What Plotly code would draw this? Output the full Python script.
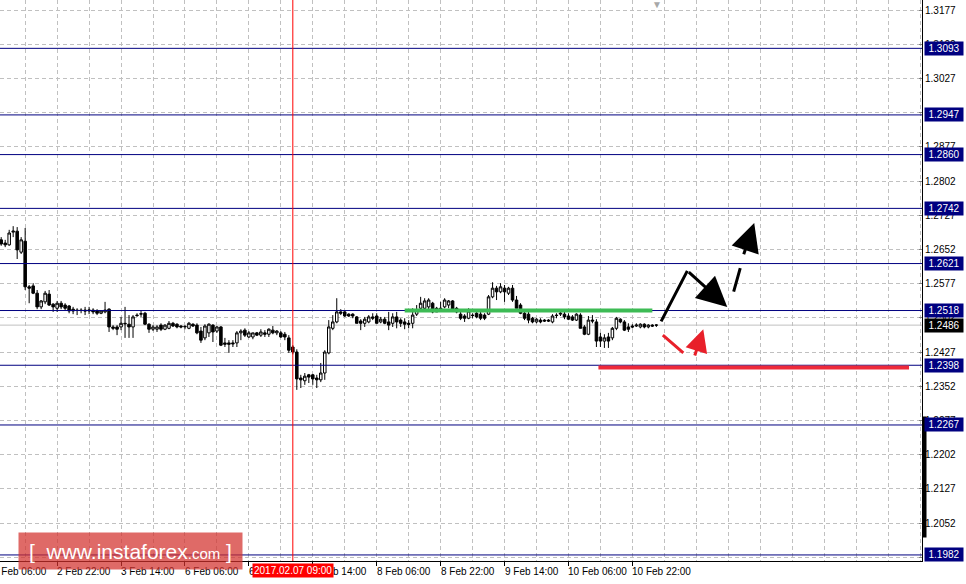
import plotly.graph_objects as go

# ---- candle data (H1 bars, bar index 0..164) ----
opens = [
    1.2673, 1.2666, 1.2662, 1.2690, 1.2692, 1.2646, 1.2670, 1.2570, 1.2572, 1.2556,
    1.2526, 1.2537, 1.2554, 1.2532, 1.2523, 1.2534, 1.2530, 1.2528, 1.2521, 1.2519,
    1.2519, 1.2519, 1.2517, 1.2519, 1.2517, 1.2512, 1.2515, 1.2521, 1.2482, 1.2482,
    1.2482, 1.2490, 1.2488, 1.2482, 1.2508, 1.2510, 1.2512, 1.2488, 1.2477, 1.2477,
    1.2486, 1.2477, 1.2479, 1.2490, 1.2488, 1.2484, 1.2482, 1.2479, 1.2488, 1.2486,
    1.2473, 1.2458, 1.2469, 1.2486, 1.2473, 1.2482, 1.2447, 1.2447, 1.2447, 1.2447,
    1.2469, 1.2475, 1.2460, 1.2460, 1.2469, 1.2464, 1.2469, 1.2466, 1.2475, 1.2469,
    1.2469, 1.2466, 1.2458, 1.2438, 1.2427, 1.2370, 1.2364, 1.2377, 1.2377, 1.2370,
    1.2366, 1.2381, 1.2425, 1.2479, 1.2493, 1.2515, 1.2515, 1.2510, 1.2510, 1.2504,
    1.2495, 1.2490, 1.2493, 1.2504, 1.2506, 1.2493, 1.2499, 1.2493, 1.2490, 1.2504,
    1.2497, 1.2493, 1.2490, 1.2490, 1.2510, 1.2523, 1.2523, 1.2526, 1.2534, 1.2523,
    1.2519, 1.2526, 1.2530, 1.2539, 1.2523, 1.2510, 1.2506, 1.2501, 1.2508, 1.2512,
    1.2510, 1.2508, 1.2510, 1.2548, 1.2567, 1.2559, 1.2567, 1.2556, 1.2567, 1.2541,
    1.2530, 1.2512, 1.2510, 1.2501, 1.2493, 1.2497, 1.2497, 1.2497, 1.2493, 1.2508,
    1.2510, 1.2510, 1.2506, 1.2504, 1.2497, 1.2508, 1.2482, 1.2466, 1.2497, 1.2493,
    1.2460, 1.2451, 1.2460, 1.2458, 1.2479, 1.2499, 1.2493, 1.2482, 1.2484, 1.2484,
    1.2482, 1.2488, 1.2482, 1.2486, 1.2486,
]
highs = [
    1.2679, 1.2673, 1.2695, 1.2703, 1.2701, 1.2679, 1.2699, 1.2574, 1.2578, 1.2563,
    1.2541, 1.2561, 1.2563, 1.2534, 1.2539, 1.2539, 1.2534, 1.2530, 1.2526, 1.2523,
    1.2523, 1.2526, 1.2526, 1.2523, 1.2521, 1.2517, 1.2537, 1.2523, 1.2486, 1.2486,
    1.2504, 1.2526, 1.2508, 1.2508, 1.2512, 1.2519, 1.2515, 1.2490, 1.2486, 1.2486,
    1.2490, 1.2488, 1.2495, 1.2493, 1.2490, 1.2486, 1.2486, 1.2493, 1.2490, 1.2490,
    1.2482, 1.2488, 1.2490, 1.2488, 1.2484, 1.2484, 1.2458, 1.2453, 1.2453, 1.2473,
    1.2477, 1.2479, 1.2473, 1.2469, 1.2471, 1.2477, 1.2475, 1.2479, 1.2484, 1.2475,
    1.2473, 1.2471, 1.2464, 1.2442, 1.2433, 1.2377, 1.2381, 1.2379, 1.2379, 1.2377,
    1.2403, 1.2431, 1.2497, 1.2508, 1.2545, 1.2521, 1.2517, 1.2512, 1.2512, 1.2506,
    1.2499, 1.2504, 1.2508, 1.2512, 1.2512, 1.2504, 1.2504, 1.2515, 1.2512, 1.2515,
    1.2501, 1.2501, 1.2497, 1.2523, 1.2530, 1.2548, 1.2545, 1.2545, 1.2537, 1.2526,
    1.2537, 1.2545, 1.2541, 1.2541, 1.2526, 1.2519, 1.2510, 1.2523, 1.2512, 1.2515,
    1.2515, 1.2512, 1.2552, 1.2580, 1.2572, 1.2578, 1.2574, 1.2570, 1.2574, 1.2550,
    1.2534, 1.2515, 1.2515, 1.2504, 1.2501, 1.2501, 1.2499, 1.2499, 1.2510, 1.2512,
    1.2515, 1.2515, 1.2512, 1.2508, 1.2512, 1.2512, 1.2486, 1.2506, 1.2508, 1.2499,
    1.2469, 1.2466, 1.2469, 1.2482, 1.2504, 1.2501, 1.2497, 1.2490, 1.2488, 1.2490,
    1.2490, 1.2490, 1.2488, 1.2488, 1.2488,
]
lows = [
    1.2660, 1.2657, 1.2660, 1.2679, 1.2631, 1.2642, 1.2563, 1.2534, 1.2554, 1.2521,
    1.2521, 1.2532, 1.2528, 1.2515, 1.2515, 1.2521, 1.2519, 1.2512, 1.2510, 1.2508,
    1.2512, 1.2508, 1.2510, 1.2510, 1.2508, 1.2510, 1.2512, 1.2471, 1.2475, 1.2464,
    1.2475, 1.2458, 1.2458, 1.2458, 1.2504, 1.2504, 1.2486, 1.2469, 1.2473, 1.2471,
    1.2473, 1.2475, 1.2477, 1.2482, 1.2479, 1.2479, 1.2477, 1.2477, 1.2482, 1.2466,
    1.2447, 1.2453, 1.2460, 1.2449, 1.2469, 1.2440, 1.2438, 1.2425, 1.2438, 1.2438,
    1.2453, 1.2460, 1.2458, 1.2455, 1.2462, 1.2460, 1.2460, 1.2460, 1.2466, 1.2464,
    1.2458, 1.2453, 1.2425, 1.2422, 1.2344, 1.2348, 1.2355, 1.2359, 1.2355, 1.2348,
    1.2361, 1.2366, 1.2422, 1.2475, 1.2490, 1.2508, 1.2504, 1.2504, 1.2501, 1.2490,
    1.2475, 1.2482, 1.2490, 1.2497, 1.2490, 1.2490, 1.2488, 1.2475, 1.2482, 1.2479,
    1.2482, 1.2477, 1.2479, 1.2479, 1.2506, 1.2519, 1.2521, 1.2521, 1.2512, 1.2515,
    1.2515, 1.2523, 1.2523, 1.2519, 1.2512, 1.2497, 1.2493, 1.2499, 1.2501, 1.2501,
    1.2497, 1.2497, 1.2508, 1.2545, 1.2541, 1.2556, 1.2537, 1.2552, 1.2537, 1.2523,
    1.2510, 1.2497, 1.2490, 1.2490, 1.2490, 1.2490, 1.2493, 1.2493, 1.2490, 1.2501,
    1.2506, 1.2499, 1.2497, 1.2495, 1.2495, 1.2479, 1.2464, 1.2464, 1.2490, 1.2438,
    1.2438, 1.2436, 1.2436, 1.2453, 1.2475, 1.2490, 1.2473, 1.2471, 1.2479, 1.2482,
    1.2479, 1.2479, 1.2479, 1.2482, 1.2482,
]
closes = [
    1.2664, 1.2662, 1.2688, 1.2692, 1.2651, 1.2673, 1.2570, 1.2567, 1.2556, 1.2526,
    1.2539, 1.2556, 1.2530, 1.2526, 1.2534, 1.2526, 1.2523, 1.2517, 1.2517, 1.2518,
    1.2518, 1.2517, 1.2519, 1.2515, 1.2512, 1.2517, 1.2519, 1.2482, 1.2479, 1.2477,
    1.2490, 1.2489, 1.2482, 1.2504, 1.2507, 1.2511, 1.2488, 1.2477, 1.2482, 1.2482,
    1.2477, 1.2486, 1.2490, 1.2484, 1.2482, 1.2482, 1.2483, 1.2490, 1.2484, 1.2469,
    1.2453, 1.2484, 1.2488, 1.2471, 1.2482, 1.2442, 1.2444, 1.2444, 1.2445, 1.2469,
    1.2473, 1.2464, 1.2469, 1.2469, 1.2464, 1.2471, 1.2466, 1.2477, 1.2469, 1.2473,
    1.2460, 1.2460, 1.2431, 1.2427, 1.2368, 1.2366, 1.2374, 1.2372, 1.2368, 1.2366,
    1.2381, 1.2427, 1.2482, 1.2493, 1.2515, 1.2512, 1.2506, 1.2506, 1.2506, 1.2490,
    1.2490, 1.2499, 1.2504, 1.2501, 1.2490, 1.2499, 1.2490, 1.2486, 1.2504, 1.2493,
    1.2490, 1.2488, 1.2488, 1.2508, 1.2519, 1.2534, 1.2539, 1.2541, 1.2515, 1.2515,
    1.2523, 1.2541, 1.2539, 1.2521, 1.2515, 1.2501, 1.2501, 1.2517, 1.2507, 1.2504,
    1.2501, 1.2501, 1.2548, 1.2567, 1.2559, 1.2570, 1.2559, 1.2567, 1.2541, 1.2523,
    1.2512, 1.2501, 1.2497, 1.2493, 1.2499, 1.2493, 1.2495, 1.2495, 1.2506, 1.2507,
    1.2512, 1.2504, 1.2499, 1.2497, 1.2510, 1.2479, 1.2466, 1.2497, 1.2495, 1.2451,
    1.2451, 1.2458, 1.2451, 1.2479, 1.2501, 1.2493, 1.2475, 1.2477, 1.2482, 1.2486,
    1.2488, 1.2482, 1.2486, 1.2484, 1.2486,
]
bars = list(range(len(opens)))

# ---- horizontal levels ----
levels = [1.3093, 1.2947, 1.2860, 1.2742, 1.2621, 1.2518, 1.2398, 1.2267, 1.1982]
level_labels = ["1.3093", "1.2947", "1.2860", "1.2742", "1.2621", "1.2518", "1.2398", "1.2267", "1.1982"]
bid_price = 1.2486
bid_label = "1.2486"

# ---- axis ticks ----
y_ticks = [1.1977, 1.2052, 1.2127, 1.2202, 1.2277, 1.2352, 1.2427, 1.2502, 1.2577,
           1.2652, 1.2727, 1.2802, 1.2877, 1.2952, 1.3027, 1.3102, 1.3177]
y_tick_labels = ["1.1977", "1.2052", "1.2127", "1.2202", "1.2277", "1.2352", "1.2427", "1.2502", "1.2577",
                 "1.2652", "1.2727", "1.2802", "1.2877", "1.2952", "1.3027", "1.3102", "1.3177"]
x_tick_bars = [-2, 14, 30, 46, 62, 78, 94, 110, 126, 142, 158]
x_tick_labels = ["2 Feb 06:00", "2 Feb 22:00", "3 Feb 14:00", "6 Feb 06:00", "6 Feb 22:00",
                 "7 Feb 14:00", "8 Feb 06:00", "8 Feb 22:00", "9 Feb 14:00", "10 Feb 06:00", "10 Feb 22:00"]

# ---- markers / drawings ----
cursor_bar = 73
cursor_label = "2017.02.07 09:00"
green_start, green_end, green_price = 101, 163, 1.2518
red_start, red_end, red_price = 149.5, 227.25, 1.2393
scale_bar_low, scale_bar_high = 1.2021, 1.2284
# forecast arrows: tail (x, y) -> tip (x, y)
arrow_tail_x = [165.0, 171.75, 183.25, 185.75, 165.25, 173.5]
arrow_tail_y = [1.2491, 1.2605, 1.2556, 1.2638, 1.2467, 1.2416]
arrow_tip_x = [171.75, 181.75, 185.0, 188.5, 170.75, 175.75]
arrow_tip_y = [1.2605, 1.2526, 1.2611, 1.2710, 1.2425, 1.2477]
arrow_color = ["black", "black", "black", "black", "#e8202a", "#e8202a"]
arrow_has_head = [False, True, False, True, False, True]
arrow_head_size = [1.0, 2.0, 1.0, 1.9, 1.0, 1.5]

X_RANGE = [-0.3, 230.5]
Y_RANGE = [1.19687, 1.3199]
PLOT_H = 561
GRID = "#c0c0c0"
FONT = "Liberation Sans, Arial, sans-serif"


def bar_to_paper(b):
    return (b - X_RANGE[0]) / (X_RANGE[1] - X_RANGE[0])


fig = go.Figure()
fig.add_trace(go.Candlestick(
    x=bars, open=opens, high=highs, low=lows, close=closes,
    increasing=dict(line=dict(color="black", width=1), fillcolor="white"),
    decreasing=dict(line=dict(color="black", width=1), fillcolor="black"),
    whiskerwidth=0, showlegend=False, hoverinfo="skip",
))

# bid line
fig.add_hline(y=bid_price, line=dict(color=GRID, width=1), layer="below")
# level lines
for v in levels:
    fig.add_hline(y=v, line=dict(color="#000080", width=1))
# cursor line
fig.add_vline(x=cursor_bar, line=dict(color="#ff0000", width=1))
# green / red support segments
fig.add_shape(type="line", xref="x", yref="y", x0=green_start, x1=green_end,
              y0=green_price, y1=green_price, line=dict(color="#3dbb55", width=4))
fig.add_shape(type="line", xref="x", yref="y", x0=red_start, x1=red_end,
              y0=red_price, y1=red_price, line=dict(color="#ee2a3a", width=4))

annotations = []
# scale bar on the right axis (drawn as a filled annotation box)
annotations.append(dict(
    x=1, xref="paper", xanchor="left", xshift=0,
    y=(scale_bar_low + scale_bar_high) / 2, yref="y", yanchor="middle",
    text=" ", showarrow=False, bgcolor="black", borderpad=0, width=3,
    height=round((scale_bar_high - scale_bar_low) / (Y_RANGE[1] - Y_RANGE[0]) * PLOT_H),
    font=dict(size=2),
))
for i in range(len(arrow_tail_x)):
    annotations.append(dict(
        x=arrow_tip_x[i], y=arrow_tip_y[i], ax=arrow_tail_x[i], ay=arrow_tail_y[i],
        xref="x", yref="y", axref="x", ayref="y", text="", showarrow=True,
        arrowhead=2 if arrow_has_head[i] else 0, arrowsize=arrow_head_size[i], arrowwidth=3,
        arrowcolor=arrow_color[i], standoff=0, startstandoff=0,
    ))

for v, lab in zip(levels, level_labels):
    annotations.append(dict(
        x=1, xref="paper", xanchor="left", xshift=2, y=v, yref="y", yanchor="middle",
        text=lab, showarrow=False, bgcolor="#000080", borderpad=1, width=36,
        font=dict(family=FONT, size=10, color="white"),
    ))
annotations.append(dict(
    x=1, xref="paper", xanchor="left", xshift=2, y=bid_price, yref="y", yanchor="middle",
    text=bid_label, showarrow=False, bgcolor="black", borderpad=1, width=36,
    font=dict(family=FONT, size=10, color="white"),
))

for b, lab in zip(x_tick_bars, x_tick_labels):
    annotations.append(dict(
        x=bar_to_paper(b), xref="paper", xanchor="left", xshift=-2, y=0, yref="paper",
        yanchor="top", yshift=-3,
        text=lab, showarrow=False, font=dict(family=FONT, size=10, color="black"),
    ))
annotations.append(dict(
    x=cursor_bar, xref="x", xanchor="center", y=0, yref="paper", yanchor="top", yshift=-2,
    text=cursor_label, showarrow=False, bgcolor="#ff0000", borderpad=1,
    font=dict(family=FONT, size=10, color="white"),
))
# chart shift marker
annotations.append(dict(
    x=164.25, xref="x", y=1, yref="paper", yanchor="top", yshift=5, text="▼",
    showarrow=False, font=dict(size=10, color="#a8a8a8"),
))
# watermark
annotations.append(dict(
    x=18 / 922, xref="paper", xanchor="left", y=(561 - 551) / 561, yref="paper", yanchor="middle",
    text="[ &nbsp;www.instaforex<span style='font-size:15px'>.com</span> ]",
    showarrow=False, width=221, height=34, align="center", valign="middle",
    bgcolor="rgba(210,48,45,0.72)", font=dict(family=FONT, size=21, color="white"),
))

fig.update_layout(
    width=966, height=584,
    margin=dict(l=0, r=44, t=0, b=23),
    paper_bgcolor="white", plot_bgcolor="white",
    showlegend=False, boxgap=0.1,
    annotations=annotations,
    xaxis=dict(
        range=X_RANGE, rangeslider=dict(visible=False),
        showline=True, linecolor="black", linewidth=1,
        tickmode="array", tickvals=x_tick_bars[1:], ticks="outside", ticklen=4, tickcolor="black",
        showticklabels=False, showgrid=True, gridcolor=GRID, griddash="4px,3px", gridwidth=1,
        minor=dict(tickmode="array", tickvals=list(range(6, 231, 8)), showgrid=True,
                   gridcolor=GRID, griddash="4px,3px", ticks=""),
        zeroline=False, fixedrange=True, automargin=False,
    ),
    yaxis=dict(
        side="right", range=Y_RANGE,
        tickmode="array", tickvals=y_ticks, ticktext=y_tick_labels,
        ticks="inside", ticklen=3, tickcolor="#808080",
        showline=True, linecolor="black", linewidth=1,
        showgrid=True, gridcolor=GRID, griddash="4px,3px", gridwidth=1,
        tickfont=dict(family=FONT, size=10, color="black"),
        zeroline=False, fixedrange=True, automargin=False,
    ),
)

fig.write_html(
    "out.html",
    config={"displayModeBar": False},
    post_script="document.body.style.margin='0';document.body.style.overflow='hidden';",
)
